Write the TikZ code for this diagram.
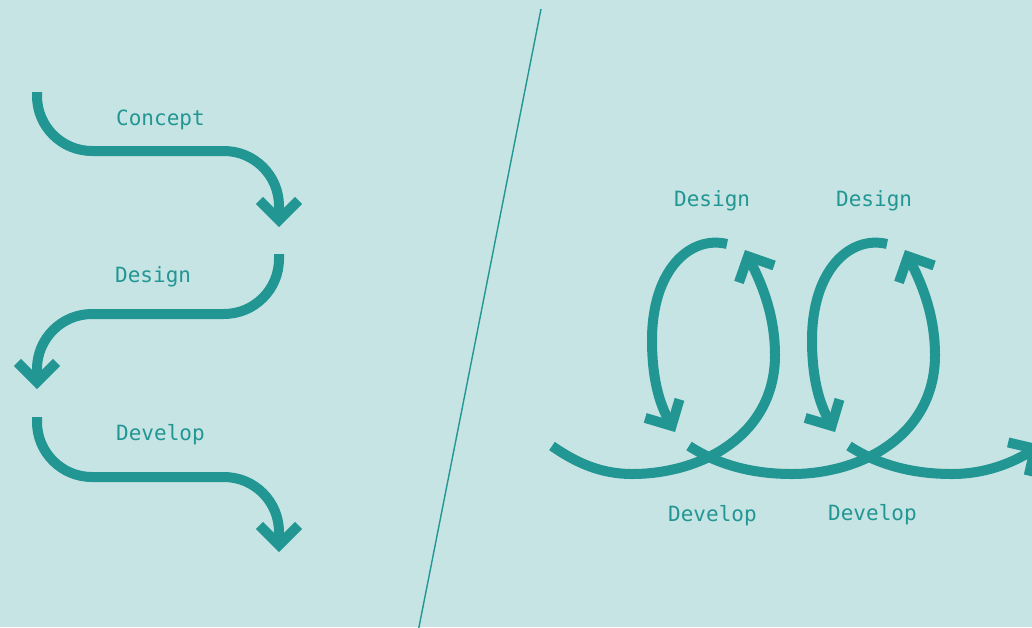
\documentclass[tikz,border=0pt]{standalone}
\usepackage{fontspec}
\setmonofont{DejaVu Sans Mono}
\usepackage{tikz}
\usetikzlibrary{arrows.meta}
\definecolor{pfback}{RGB}{198,228,228}
\definecolor{pfteal}{RGB}{34,150,147}
\tikzset{
  pfline/.style={
    draw=pfteal,
    line width=10pt,
    -{Straight Barb[sharp,length=19.5pt,width=39pt]}
  },
  pfstep/.style={
    pfline,
    rounded corners=55pt
  },
  pflabel/.style={
    anchor=base west,
    inner sep=0pt,
    text=pfteal,
    font=\ttfamily\fontsize{21}{25}\selectfont
  },
  pfsplit/.style={
    draw=pfteal,
    line width=1.4pt
  }
}
\begin{document}
\begin{tikzpicture}[x=1pt,y=-1pt]
\clip (0,0) rectangle (1032,627);
\fill[pfback] (0,0) rectangle (1032,627);
\node[pflabel] (concept) at (116,125) {Concept};
\node[pflabel] (design) at (115,282) {Design};
\node[pflabel] (develop) at (116,440) {Develop};
\node[pflabel] (designa) at (674,206) {Design};
\node[pflabel] (designb) at (836,206) {Design};
\node[pflabel] (developa) at (668,521) {Develop};
\node[pflabel] (developb) at (828,520) {Develop};
\draw[pfsplit] (541,9) -- (418,632);
\draw[pfstep] (37,92) -- (37,151) -- (279,151) -- (279,227);
\draw[pfstep] (279,254) -- (279,314) -- (37,314) -- (37,389);
\draw[pfstep] (37,417) -- (37,477) -- (279,477) -- (279,552);
\draw[pfline] (552,446) .. controls (575,462) and (600,474) .. (632,474)
  .. controls (702,474) and (775,435) .. (775,355)
  .. controls (775,310) and (758,277) .. (745,250);
\draw[pfline] (727,244) .. controls (690,235) and (652,270) .. (652,340)
  .. controls (652,385) and (662,408) .. (675,432);
\draw[pfline] (689,446) .. controls (720,466) and (755,474) .. (792,474)
  .. controls (862,474) and (935,435) .. (935,355)
  .. controls (935,310) and (918,277) .. (905,250);
\draw[pfline] (887,244) .. controls (850,235) and (812,270) .. (812,340)
  .. controls (812,385) and (822,408) .. (835,432);
\draw[pfline] (849,446) .. controls (880,466) and (915,474) .. (952,474)
  .. controls (985,474) and (1012,463) .. (1041,445);
\end{tikzpicture}
\end{document}
